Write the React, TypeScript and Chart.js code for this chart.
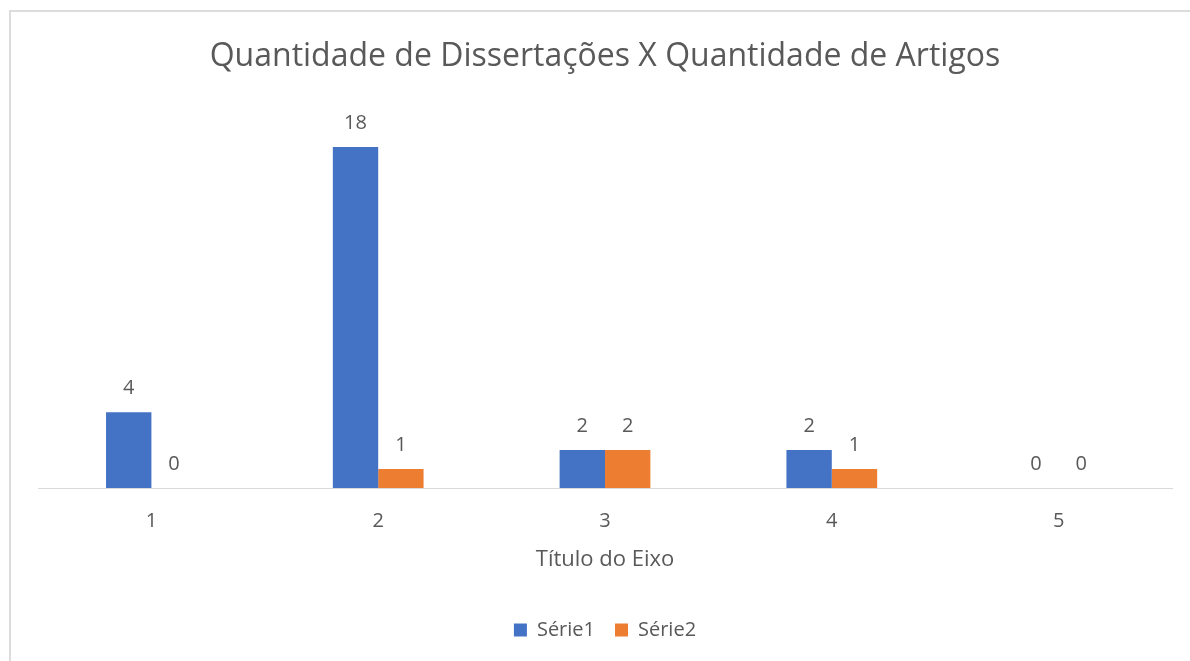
import React, { useEffect, useRef } from "react";
import { Chart, registerables } from "chart.js";

Chart.register(...registerables);

const categories = ["1", "2", "3", "4", "5"];
const serie1 = [4, 18, 2, 2, 0];
const serie2 = [0, 1, 2, 1, 0];
const seriesNames = ["Série1", "Série2"];
const chartTitle = "Quantidade de Dissertações X Quantidade de Artigos";
const axisTitle = "Título do Eixo";

const FONT = "'Open Sans', sans-serif";
const GREY = "#595959";

const dataLabelPlugin = {
  id: "dataLabels",
  afterDatasetsDraw(chart: any) {
    const ctx = chart.ctx;
    ctx.save();
    ctx.font = `20px ${FONT}`;
    ctx.fillStyle = GREY;
    ctx.textAlign = "center";
    ctx.textBaseline = "middle";
    chart.data.datasets.forEach((ds: any, di: number) => {
      const meta = chart.getDatasetMeta(di);
      meta.data.forEach((el: any, i: number) => {
        ctx.fillText(String(ds.data[i]), el.x, el.y - 24);
      });
    });
    ctx.restore();
  },
};

export default function App() {
  const ref = useRef<HTMLCanvasElement>(null);
  useEffect(() => {
    if (!ref.current) return;
    const chart: any = new Chart(ref.current, {
      type: "bar",
      data: {
        labels: categories,
        datasets: [
          { label: seriesNames[0], data: serie1, backgroundColor: "#4472C4" },
          { label: seriesNames[1], data: serie2, backgroundColor: "#ED7D31" },
        ],
      },
      plugins: [dataLabelPlugin],
      options: {
        responsive: false,
        animation: false,
        layout: { padding: { left: 29, right: 18, top: 0, bottom: 11 } },
        datasets: { bar: { barPercentage: 1, categoryPercentage: 0.4 } },
        scales: {
          x: {
            grid: { display: false, drawTicks: false },
            border: { display: true, color: "#d9d9d9", width: 1 },
            ticks: { color: GREY, font: { family: FONT, size: 20 }, padding: 21 },
            title: {
              display: true,
              text: axisTitle,
              color: GREY,
              font: { family: FONT, size: 22 },
              padding: { top: 0, bottom: 27 },
            },
            afterFit: (scale: any) => {
              scale.height = 112;
            },
          },
          y: { display: false, min: 0, max: 20 },
        },
        plugins: {
          title: {
            display: true,
            text: chartTitle,
            color: GREY,
            font: { family: FONT, size: 32, weight: "normal" },
            padding: { top: 28, bottom: 32.8 },
          },
          legend: {
            position: "bottom",
            labels: {
              color: GREY,
              font: { family: FONT, size: 20 },
              boxWidth: 13,
              boxHeight: 13,
              padding: 20,
            },
          },
          tooltip: { enabled: false },
        },
      },
    });
    return () => chart.destroy();
  }, []);
  return (
    <div style={{ position: "fixed", left: 0, top: 0, width: 1190, height: 661, background: "#fff" }}>
      <div
        style={{
          position: "absolute",
          left: 9,
          top: 10,
          width: 1181,
          height: 651,
          borderLeft: "2px solid #dcdcdc",
          borderTop: "2px solid #dcdcdc",
          boxSizing: "border-box",
        }}
      />
      <canvas ref={ref} width={1181} height={651} style={{ position: "absolute", left: 9, top: 10 }} />
    </div>
  );
}
